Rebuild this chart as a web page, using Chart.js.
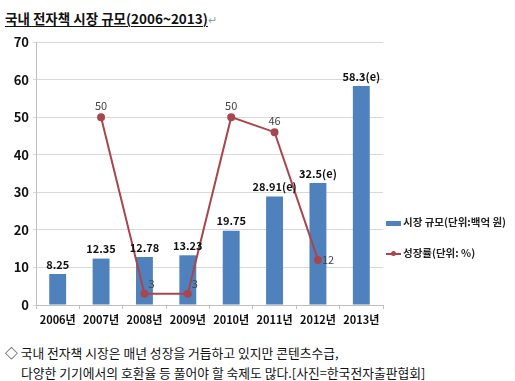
<!DOCTYPE html>
<html>
<head>
<meta charset="utf-8">
<script src="https://cdn.jsdelivr.net/npm/chart.js@4.4.1/dist/chart.umd.min.js"></script>
<style>
    body { margin: 0; background: #fff; width: 515px; height: 381px; overflow: hidden; position: relative; font-family: "Noto Sans CJK KR", sans-serif; }
    #title { position: absolute; left: 5px; top: 8px; font-size: 13.5px; font-weight: bold; color: #111; white-space: nowrap; }
    #title u { text-decoration: underline; text-underline-offset: 2px; }
    #title span { color: #999; font-weight: normal; font-size: 11px; }
    #wrap { position: absolute; left: 0; top: 30px; width: 515px; height: 310px; }
    .leg { position: absolute; font-size: 10.5px; font-weight: bold; color: #222; white-space: nowrap; }
    .note { position: absolute; font-size: 12.8px; color: #111; white-space: nowrap; }
</style>
</head>
<body>
<div id="title"><u>국내 전자책 시장 규모(2006~2013)</u><span>↵</span></div>
<div id="wrap"><canvas id="chart" width="515" height="310"></canvas></div>
<div class="leg" style="left:386px; top:214px;"><span style="display:inline-block;width:15px;height:5px;background:#4F81BD;vertical-align:middle;margin-right:2px;"></span>시장 규모(단위:백억 원)</div>
<div class="leg" style="left:386px; top:245px;"><span style="display:inline-block;position:relative;width:15px;height:2px;background:#A8464E;vertical-align:middle;margin-right:2px;"><span style="position:absolute;left:5px;top:-2px;width:5px;height:5px;border-radius:50%;background:#A8464E;"></span></span>성장률(단위: %)</div>
<div class="note" style="left:5px; top:343px;">◇ 국내 전자책 시장은 매년 성장을 거듭하고 있지만 콘텐츠수급,</div>
<div class="note" style="left:21px; top:363px;">다양한 기기에서의 호환율 등 풀어야 할 숙제도 많다.[사진=한국전자출판협회]</div>
<script>
const years = ["2006년", "2007년", "2008년", "2009년", "2010년", "2011년", "2012년", "2013년"];
const marketSize = [8.25, 12.35, 12.78, 13.23, 19.75, 28.91, 32.5, 58.3];
const marketLabels = ["8.25", "12.35", "12.78", "13.23", "19.75", "28.91(e)", "32.5(e)", "58.3(e)"];
const growthRate = [null, 50, 3, 3, 50, 46, 12, null];
const growthLabelSide = [null, "top", "right", "right", "top", "top", "right", null];

const labelFont = '"Noto Sans CJK KR", sans-serif';

// draws the value labels over bars and line points
const valueLabels = {
    id: "valueLabels",
    afterDatasetsDraw(chart) {
        const ctx = chart.ctx;
        ctx.save();

        const bars = chart.getDatasetMeta(1).data;
        ctx.font = "bold 11px " + labelFont;
        ctx.fillStyle = "#111";
        ctx.textAlign = "center";
        ctx.textBaseline = "bottom";
        bars.forEach((b, i) => {
            ctx.fillText(marketLabels[i], b.x, b.y - 4);
        });

        const pts = chart.getDatasetMeta(0).data;
        ctx.font = "11px " + labelFont;
        ctx.fillStyle = "#444";
        pts.forEach((p, i) => {
            if (growthRate[i] === null) return;
            if (growthLabelSide[i] === "top") {
                ctx.textAlign = "center";
                ctx.textBaseline = "bottom";
                ctx.fillText(String(growthRate[i]), p.x, p.y - 6);
            } else {
                ctx.textAlign = "left";
                ctx.textBaseline = "middle";
                const dy = growthRate[i] < 10 ? -10 : 0;
                ctx.fillText(String(growthRate[i]), p.x + 4, p.y + dy);
            }
        });

        ctx.restore();
    }
};

new Chart(document.getElementById("chart").getContext("2d"), {
    data: {
        labels: years,
        datasets: [
            {
                type: "line",
                label: "성장률(단위: %)",
                data: growthRate,
                borderColor: "#A8464E",
                backgroundColor: "#A8464E",
                borderWidth: 2,
                pointRadius: 3,
                pointHoverRadius: 3,
                tension: 0,
                spanGaps: false,
                order: 0
            },
            {
                type: "bar",
                label: "시장 규모(단위:백억 원)",
                data: marketSize,
                backgroundColor: "#4F81BD",
                categoryPercentage: 1,
                barPercentage: 0.39,
                order: 1
            }
        ]
    },
    options: {
        responsive: false,
        animation: false,
        layout: { padding: { top: 12, right: 132, left: 0, bottom: 0 } },
        plugins: {
            legend: { display: false },
            tooltip: { enabled: false }
        },
        scales: {
            x: {
                grid: { display: true, drawOnChartArea: false, offset: true, tickLength: 4, color: "#BFBFBF" },
                border: { color: "#BFBFBF" },
                ticks: { color: "#111", font: { family: labelFont, size: 11, weight: "bold" }, padding: 4, maxRotation: 0 },
                afterFit(scale) { scale.height = 35; }
            },
            y: {
                min: 0,
                max: 70,
                ticks: { stepSize: 10, color: "#111", font: { family: labelFont, size: 13, weight: "bold" }, padding: 4 },
                grid: { color: "#D9D9D9", tickLength: 3 },
                border: { color: "#BFBFBF" },
                afterFit(scale) { scale.width = 36; }
            }
        }
    },
    plugins: [valueLabels]
});
</script>
</body>
</html>
